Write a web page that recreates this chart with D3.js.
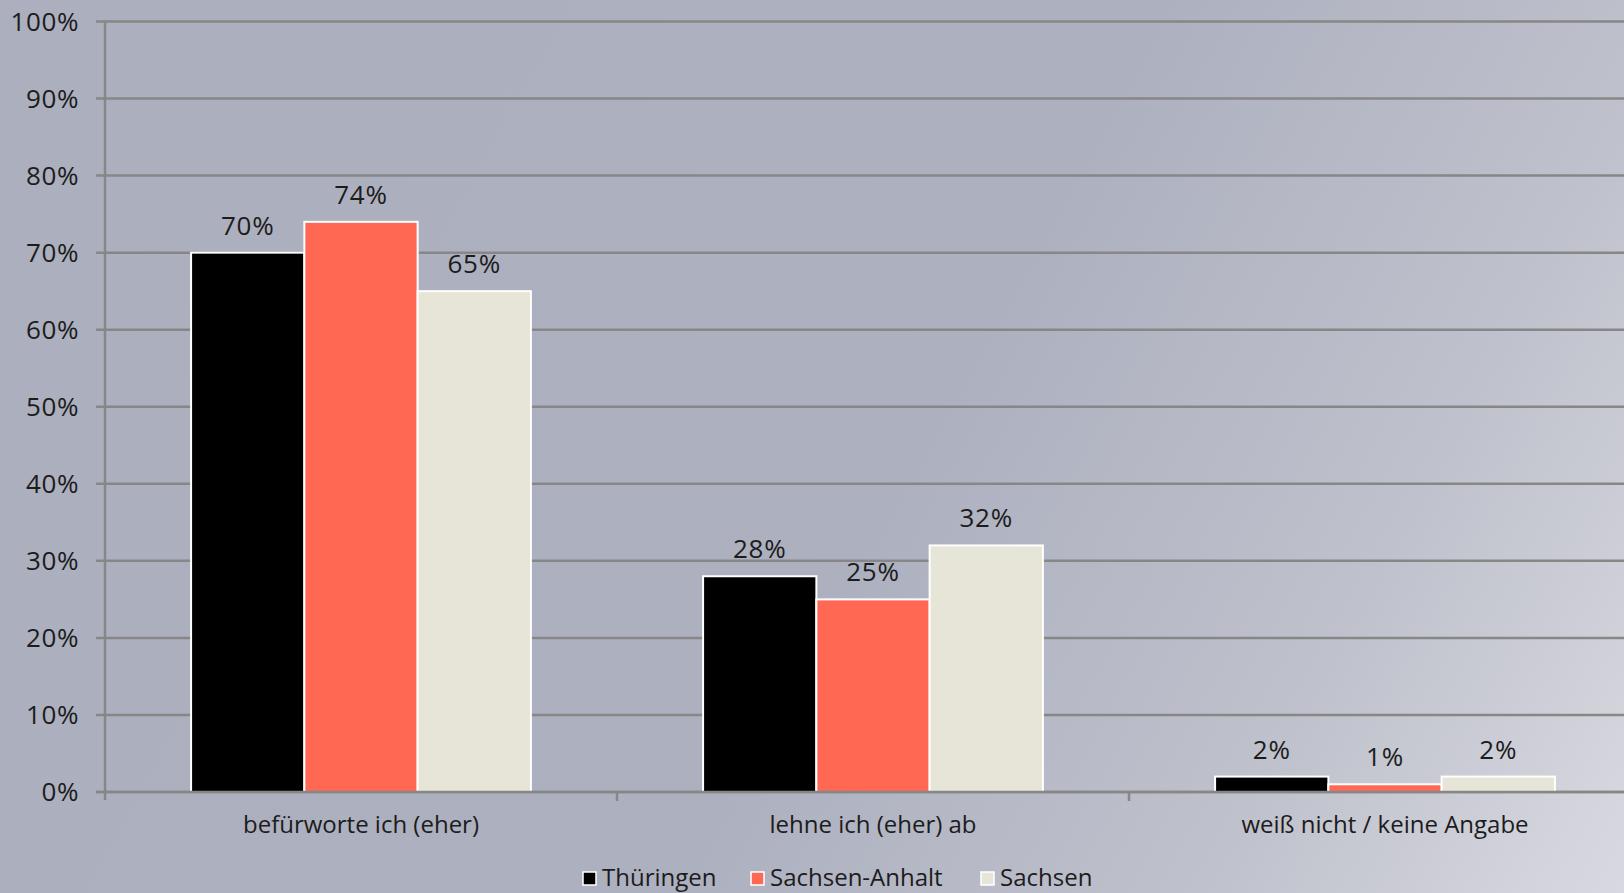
<!DOCTYPE html>
<html>
<head>
<meta charset="utf-8">
<script src="https://cdn.jsdelivr.net/npm/d3@7"></script>
<style>
  html, body { margin: 0; padding: 0; overflow: hidden; }
  svg { display: block; }
  text { font-family: "Open Sans", "Noto Sans", sans-serif; fill: #1c1c1c; }
</style>
</head>
<body>
<svg id="chart" width="1624" height="893"></svg>
<script>
// Survey answers by federal state
const categories = ["befürworte ich (eher)", "lehne ich (eher) ab", "weiß nicht / keine Angabe"];
const seriesNames = ["Thüringen", "Sachsen-Anhalt", "Sachsen"];
const thueringen = [70, 28, 2];
const sachsenAnhalt = [74, 25, 1];
const sachsen = [65, 32, 2];
const yTicks = [0, 10, 20, 30, 40, 50, 60, 70, 80, 90, 100];
const colors = ["#000000", "#ff6853", "#e7e5d7"];

const seriesValues = [thueringen, sachsenAnhalt, sachsen];

const W = 1624, H = 893;
const svg = d3.select("#chart");

// background gradient
const defs = svg.append("defs");
const grad = defs.append("linearGradient")
  .attr("id", "bg").attr("gradientUnits", "userSpaceOnUse")
  .attr("x1", 0).attr("y1", 0).attr("x2", W).attr("y2", H);
grad.append("stop").attr("offset", "0%").attr("stop-color", "#acafbe");
grad.append("stop").attr("offset", "55%").attr("stop-color", "#adb0bf");
grad.append("stop").attr("offset", "80%").attr("stop-color", "#bfc1cc");
grad.append("stop").attr("offset", "100%").attr("stop-color", "#d8d9e0");
svg.append("rect").attr("width", W).attr("height", H).attr("fill", "url(#bg)");

const plotLeft = 105, plotTop = 21.5, plotBottom = 792;
const bandW = 512;
const x = d3.scaleBand().domain(categories).range([plotLeft, plotLeft + bandW * categories.length]);
const y = d3.scaleLinear().domain([0, 100]).range([plotBottom, plotTop]);
const xs = d3.scaleBand().domain(seriesNames).range([0, x.bandwidth()]).paddingOuter(0.76);

// gridlines
svg.append("g").selectAll("line").data(yTicks).join("line")
  .attr("x1", plotLeft - 9).attr("x2", W)
  .attr("y1", d => y(d)).attr("y2", d => y(d))
  .attr("stroke", "#878787").attr("stroke-width", 2.5);

// y axis line
svg.append("line")
  .attr("x1", plotLeft).attr("x2", plotLeft)
  .attr("y1", plotTop - 1).attr("y2", plotBottom + 8)
  .attr("stroke", "#878787").attr("stroke-width", 2.5);

// y tick labels
svg.append("g").selectAll("text").data(yTicks).join("text")
  .attr("x", 79).attr("y", d => y(d)).attr("dy", "0.36em")
  .attr("text-anchor", "end").attr("font-size", 26).attr("letter-spacing", 0.6)
  .text(d => d + "%");

// category tick marks
svg.append("g").selectAll("line").data(categories.slice(1)).join("line")
  .attr("x1", d => x(d)).attr("x2", d => x(d))
  .attr("y1", plotBottom).attr("y2", plotBottom + 9)
  .attr("stroke", "#878787").attr("stroke-width", 2.5);

// bars
const groups = svg.append("g").selectAll("g").data(categories).join("g")
  .attr("transform", d => `translate(${x(d)},0)`);

groups.each(function(cat, ci) {
  const g = d3.select(this);
  seriesNames.forEach((s, si) => {
    const v = seriesValues[si][ci];
    g.append("rect")
      .attr("x", xs(s)).attr("width", xs.bandwidth())
      .attr("y", y(v)).attr("height", plotBottom - y(v))
      .attr("fill", colors[si]).attr("stroke", "#ffffff").attr("stroke-width", 2);
    g.append("text")
      .attr("x", xs(s) + xs.bandwidth() / 2).attr("y", y(v) - 18)
      .attr("text-anchor", "middle").attr("font-size", 26).attr("letter-spacing", 0.8)
      .text(v + "%");
  });
});

// redraw baseline over bar bottoms
svg.append("line")
  .attr("x1", plotLeft - 9).attr("x2", W)
  .attr("y1", y(0)).attr("y2", y(0))
  .attr("stroke", "#878787").attr("stroke-width", 2.5);

// category labels
svg.append("g").selectAll("text").data(categories).join("text")
  .attr("x", d => x(d) + x.bandwidth() / 2).attr("y", 833)
  .attr("text-anchor", "middle").attr("font-size", 24)
  .text(d => d);

// legend
const legendX = [583, 751, 981];
const legend = svg.append("g").selectAll("g").data(seriesNames).join("g")
  .attr("transform", (d, i) => `translate(${legendX[i]},0)`);
legend.append("rect")
  .attr("x", 0).attr("y", 872).attr("width", 13).attr("height", 13)
  .attr("fill", (d, i) => colors[i]).attr("stroke", "#ffffff").attr("stroke-width", 1.5);
legend.append("text")
  .attr("x", 19).attr("y", 886).attr("font-size", 24)
  .text(d => d);
</script>
</body>
</html>
